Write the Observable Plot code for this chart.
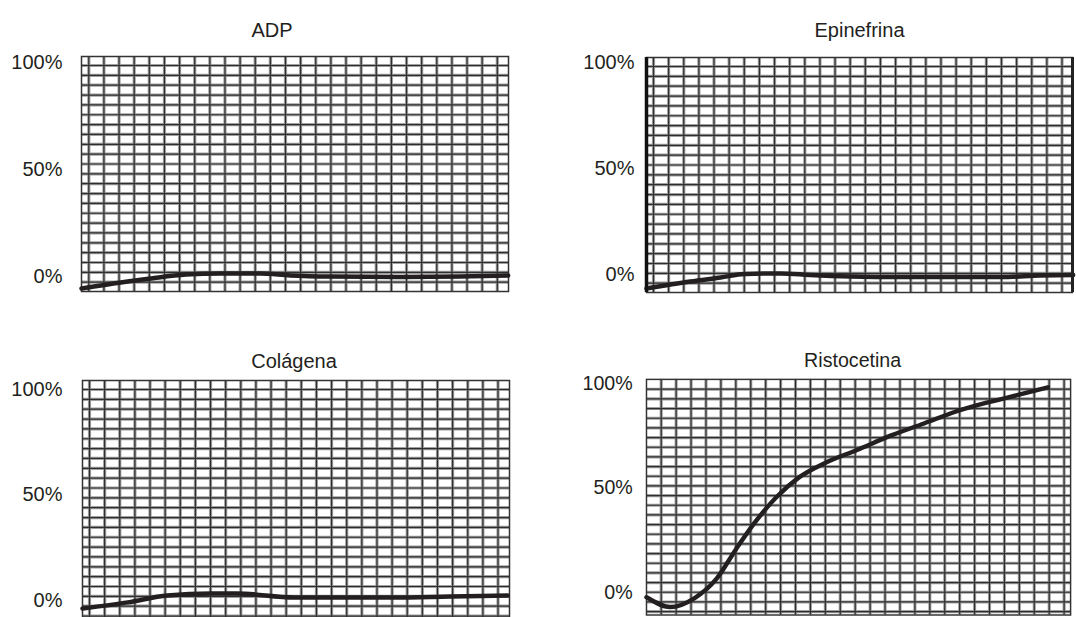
<!DOCTYPE html>
<html>
<head>
<meta charset="utf-8">
<script src="https://cdn.jsdelivr.net/npm/d3@7"></script>
<script src="https://cdn.jsdelivr.net/npm/@observablehq/plot@0.6"></script>
<style>
  html, body { margin: 0; padding: 0; background: #fff; }
  #root { position: relative; width: 1076px; height: 617px; overflow: hidden; background: #fff;
          font-family: "Liberation Sans", Arial, sans-serif; }
  .panel { position: absolute; }
  .panel svg { overflow: visible; }
</style>
</head>
<body>
<div id="root"></div>
<script>
// ---------- data (x in grid cells / time units, y in % aggregation) ----------
const titles = ["ADP", "Epinefrina", "Colágena", "Ristocetina"];
const yTickValues = [0, 50, 100];
const yTickLabels = ["0%", "50%", "100%"];

const adpX = [0, 2.6, 4.6, 6.9, 9.2, 11.8, 13.8, 16.5, 21.1, 25.0, 28.2];
const adpY = [-5.6, -2.8, -0.9, 0.9, 1.4, 1.4, 0.5, 0.0, -0.2, 0.0, 0.5];

const epiX = [0, 2.9, 4.9, 6.5, 8.9, 10.8, 13.5, 16.8, 23.4, 26.0, 28.2];
const epiY = [-6.6, -3.3, -1.4, 0.2, 0.5, -0.2, -0.9, -1.2, -1.2, -0.5, -0.2];

const colX = [0, 3.0, 5.6, 8.5, 10.2, 14.0, 20.6, 24.3, 28.1];
const colY = [-3.8, -0.9, 2.4, 3.3, 3.3, 1.4, 1.4, 1.9, 2.4];

const risX = [0, 1.6, 3.2, 4.7, 6.0, 7.2, 8.7, 10.2, 12.0, 14.1, 16.4, 18.6, 20.7, 23.0, 25.1, 26.9];
const risY = [-2.3, -7.0, -2.8, 6.6, 20.7, 32.9, 45.5, 54.9, 62.0, 68.1, 75.1, 80.8, 86.4, 91.1, 94.8, 98.1];

const seriesX = [adpX, epiX, colX, risX];
const seriesY = [adpY, epiY, colY, risY];

// ---------- layout (pixels) ----------
const layout = [
  {left: 0,   top: 0,   w: 538, h: 300, fL: 81,  fT: 56,  fR: 508,  fB: 291, y0: 276, y100: 62,  gx: 88.3, gy: 65,  cw: 15.13, ch: 9.85, labelR: 62,  titleY: 22, titleDx: -23, thickSides: false},
  {left: 538, top: 0,   w: 538, h: 300, fL: 646, fT: 57,  fR: 1072, fB: 292, y0: 274, y100: 62,  gx: 653,  gy: 66,  cw: 15.13, ch: 9.85, labelR: 634, titleY: 22, titleDx: 0, thickSides: true},
  {left: 0,   top: 320, w: 538, h: 300, fL: 82,  fT: 380, fR: 509,  fB: 620, y0: 600, y100: 389, gx: 89,   gy: 389, cw: 15.13, ch: 9.85, labelR: 62,  titleY: 353, titleDx: -2, thickSides: false},
  {left: 538, top: 320, w: 548, h: 300, fL: 648, fT: 380, fR: 1080, fB: 620, y0: 597, y100: 384, gx: 663,  gy: 390, cw: 15.2,  ch: 9.85, labelR: 634, titleY: 353, titleDx: -6, thickSides: false}
];

const ink = "#231f20";
const fontSize = 20;
const root = document.getElementById("root");

layout.forEach((L, i) => {
  const pxPerPct = (L.y0 - L.y100) / 100;
  const yTop = 100 + (L.y100 - L.fT) / pxPerPct;
  const yBot = -(L.fB - L.y0) / pxPerPct;
  const xMax = (L.fR - L.fL) / L.cw;

  const gxStart = (L.gx - L.fL) / L.cw;
  const vLines = d3.range(gxStart, xMax - 0.05, 1);
  const gyStart = (L.y0 - L.gy) / pxPerPct;
  const stepPct = L.ch / pxPerPct;
  const hLines = d3.range(gyStart, yBot, -stepPct);

  const data = seriesX[i].map((x, k) => ({x, y: seriesY[i][k]}));

  const marks = [
    Plot.ruleX(vLines, {stroke: "#a0a0a0", strokeWidth: 3.2}),
    Plot.ruleY(hLines, {stroke: "#a0a0a0", strokeWidth: 3.2}),
    Plot.ruleX(vLines, {stroke: "#2e2e2e", strokeWidth: 1.2}),
    Plot.ruleY(hLines, {stroke: "#2e2e2e", strokeWidth: 1.2}),
    Plot.frame({stroke: "#333", strokeWidth: 1.5}),
    Plot.axisY({ticks: yTickValues, tickFormat: d => yTickLabels[yTickValues.indexOf(d)],
                tickSize: 0, tickPadding: L.fL - L.labelR, fontSize, fill: ink, label: null}),
    Plot.text([titles[i]], {text: d => d, frameAnchor: "top", dy: -(L.fT - L.titleY), dx: L.titleDx,
                           fontSize, fill: ink}),
    Plot.line(data, {x: "x", y: "y", curve: "monotone-x", stroke: ink, strokeWidth: 4.5,
                     strokeLinecap: "round", strokeLinejoin: "round"})
  ];
  if (L.thickSides) {
    marks.push(Plot.ruleX([0], {stroke: "#111", strokeWidth: 3.5}));
    marks.push(Plot.ruleX([xMax], {stroke: "#222", strokeWidth: 3}));
  }

  const svg = Plot.plot({
    width: L.w,
    height: L.h,
    marginLeft: L.fL - L.left,
    marginTop: L.fT - L.top,
    marginRight: L.left + L.w - L.fR,
    marginBottom: L.top + L.h - L.fB,
    style: {fontFamily: "'Liberation Sans', Arial, sans-serif", background: "transparent", color: ink},
    x: {domain: [0, xMax], axis: null},
    y: {domain: [yBot, yTop], axis: null},
    marks
  });
  const div = document.createElement("div");
  div.className = "panel";
  div.style.left = L.left + "px";
  div.style.top = L.top + "px";
  div.appendChild(svg);
  root.appendChild(div);
});
</script>
</body>
</html>
